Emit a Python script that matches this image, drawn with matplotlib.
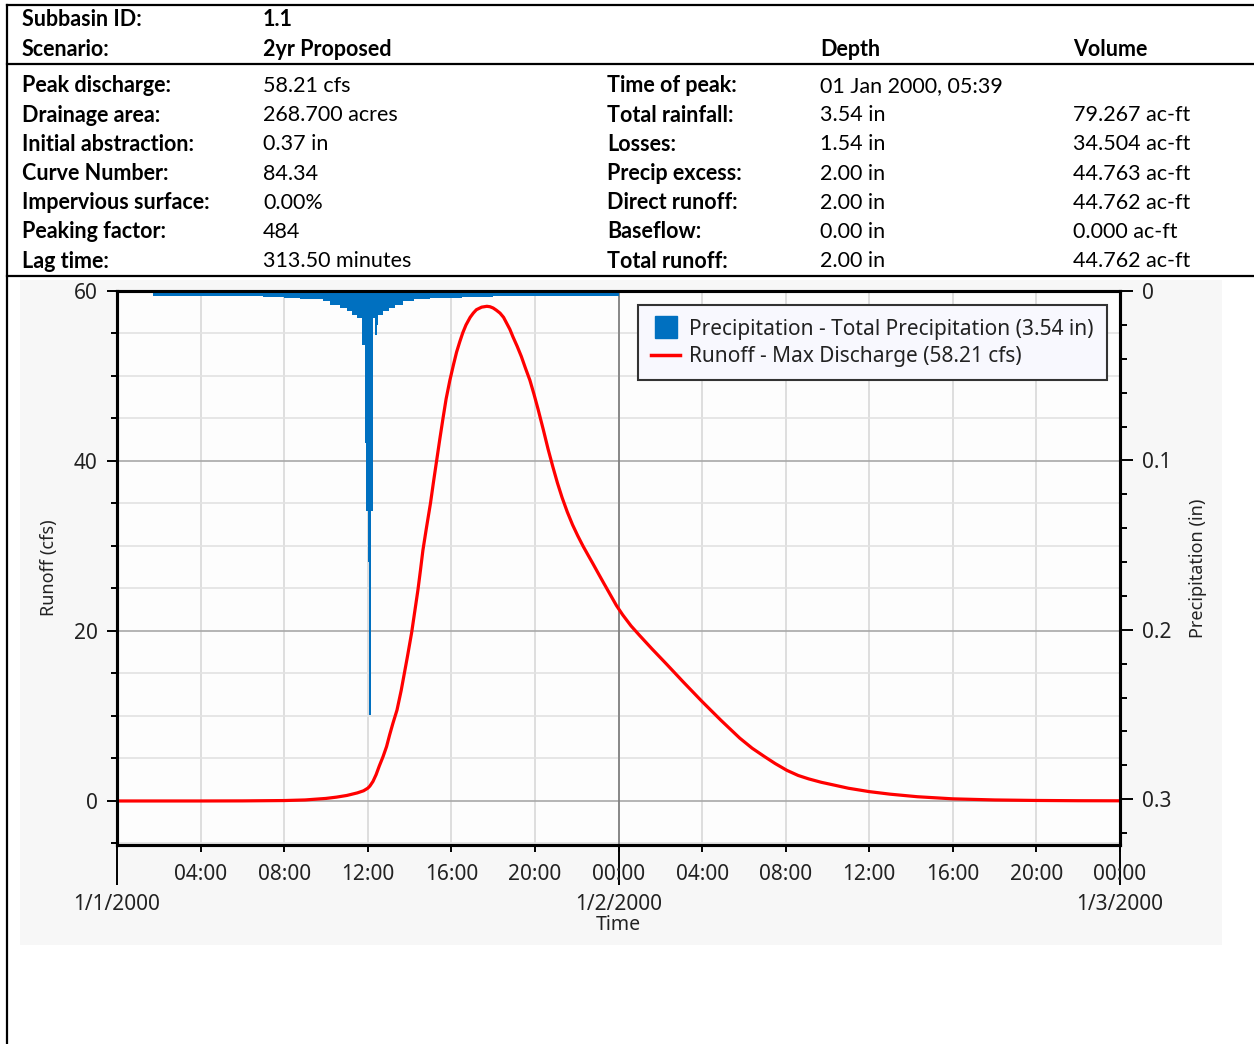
import numpy as np
import matplotlib.pyplot as plt
from matplotlib.lines import Line2D
from matplotlib.patches import Rectangle
from matplotlib.ticker import MultipleLocator

# ---- summary table ----
header_labels = ['Subbasin ID:', 'Scenario:']
header_values = ['1.1', '2yr Proposed']
left_labels = ['Peak discharge:', 'Drainage area:', 'Initial abstraction:', 'Curve Number:',
               'Impervious surface:', 'Peaking factor:', 'Lag time:']
left_values = ['58.21 cfs', '268.700 acres', '0.37 in', '84.34', '0.00%', '484', '313.50 minutes']
right_labels = ['Time of peak:', 'Total rainfall:', 'Losses:', 'Precip excess:',
                'Direct runoff:', 'Baseflow:', 'Total runoff:']
depth_values = ['01 Jan 2000, 05:39', '3.54 in', '1.54 in', '2.00 in', '2.00 in', '0.00 in', '2.00 in']
volume_values = ['', '79.267 ac-ft', '34.504 ac-ft', '44.763 ac-ft', '44.762 ac-ft', '0.000 ac-ft', '44.762 ac-ft']

# ---- hyetograph (interval start hour, depth in) ----
precip_start = [1.7, 5.0, 7.0, 8.0, 8.75, 9.85, 10.2, 10.65, 11.0, 11.25, 11.5, 11.72, 11.86,
                11.94, 12.0, 12.05, 12.17, 12.25, 12.35, 12.42, 12.5, 12.75, 13.0, 13.3, 13.7,
                14.2, 15.0, 16.5, 18.0, 21.0]
precip_end = 24.0
precip_depth = [0.003, 0.003, 0.0035, 0.004, 0.005, 0.006, 0.008, 0.010, 0.012, 0.014, 0.016,
                0.032, 0.09, 0.13, 0.16, 0.25, 0.13, 0.016, 0.026, 0.02, 0.014, 0.012, 0.010,
                0.008, 0.006, 0.005, 0.004, 0.0035, 0.003, 0.003]

# ---- runoff hydrograph (hour, cfs) ----
runoff_hours = [0, 2, 4, 6, 8, 9, 10, 10.5, 11, 11.5, 11.8, 12.0, 12.1, 12.25, 12.4, 12.55, 12.73,
                12.9, 13.05, 13.2, 13.4, 13.6, 13.75, 13.9, 14.1, 14.25, 14.4, 14.52, 14.64, 14.8,
                15.0, 15.15, 15.3, 15.45, 15.6, 15.75, 15.93, 16.1, 16.25, 16.4, 16.55, 16.7,
                16.9, 17.05, 17.2, 17.45, 17.7, 17.85, 18.0, 18.15, 18.33, 18.5, 18.65, 18.8,
                18.95, 19.15, 19.35, 19.55, 19.76, 19.95, 20.15, 20.4, 20.63, 20.86, 21.08, 21.3,
                21.55, 21.8, 22.05, 22.3, 22.55, 22.78, 23.05, 23.3, 23.6, 23.9, 24.2, 24.6, 25.0,
                25.6, 26.3, 27.1, 28.0, 28.9, 29.8, 30.4, 31.0, 31.5, 32.06, 32.6, 33.1, 33.7,
                34.26, 35.0, 36.0, 37.0, 38.3, 40.0, 42.0, 44.0, 46.0, 48.0]
runoff_cfs = [0, 0, 0, 0.01, 0.05, 0.12, 0.3, 0.45, 0.65, 0.95, 1.2, 1.5, 1.75, 2.3, 3.1, 4.1, 5.2,
              6.4, 7.8, 9.1, 10.7, 13.0, 15.0, 17.0, 19.8, 22.3, 24.8, 27.1, 29.5, 32.0,
              35.0, 37.6, 40.1, 42.6, 45.0, 47.3, 49.5, 51.3, 52.8, 54.0, 55.1, 56.0,
              56.9, 57.4, 57.8, 58.1, 58.2, 58.15, 58.0, 57.75, 57.4, 56.9, 56.2, 55.5,
              54.6, 53.5, 52.3, 50.9, 49.5, 47.9, 46.1, 43.7, 41.4, 39.3, 37.4, 35.7,
              34.0, 32.5, 31.2, 30.0, 28.9, 27.9, 26.7, 25.6, 24.3, 23.0, 21.9, 20.6, 19.5,
              17.9, 16.1, 14.0, 11.7, 9.5, 7.4, 6.2, 5.2, 4.4, 3.6, 3.0, 2.6, 2.2,
              1.9, 1.5, 1.1, 0.8, 0.5, 0.25, 0.12, 0.06, 0.03, 0.02]

tick_hours = list(range(4, 49, 4))
tick_labels = ['%02d:00' % (h % 24) for h in tick_hours]
date_hours = [0, 24, 48]
date_labels = ['1/1/2000', '1/2/2000', '1/3/2000']

W, H = 1254, 1044
fig = plt.figure(figsize=(W / 100, H / 100), dpi=100)


def fx(x):
    return x / W


def fy(y):
    return 1 - y / H


# table text
tfont = dict(family='Lato', fontsize=15.5, color='black', va='center')
for i, (lab, val) in enumerate(zip(header_labels, header_values)):
    y = fy(20 + 30 * i)
    fig.text(fx(22), y, lab, weight='bold', **tfont)
    fig.text(fx(263), y, val, weight='bold', **tfont)
fig.text(fx(820), fy(50), 'Depth', weight='bold', **tfont)
fig.text(fx(1073), fy(50), 'Volume', weight='bold', **tfont)
for i in range(len(left_labels)):
    y = fy(86 + 29.2 * i)
    fig.text(fx(22), y, left_labels[i], weight='bold', **tfont)
    fig.text(fx(263), y, left_values[i], **tfont)
    fig.text(fx(607), y, right_labels[i], weight='bold', **tfont)
    fig.text(fx(820), y, depth_values[i], **tfont)
    fig.text(fx(1073), y, volume_values[i], **tfont)

# table borders
for xs, ys in [([7, 1254], [5, 5]), ([7, 1254], [64, 64]), ([7, 1254], [276, 276]), ([7, 7], [5, 1044])]:
    fig.add_artist(Line2D([fx(v) for v in xs], [fy(v) for v in ys], color='black', lw=1.6,
                          transform=fig.transFigure))

# light chart background
fig.patches.append(Rectangle((fx(20), fy(945)), fx(1202), 665 / H, transform=fig.transFigure,
                             facecolor='#f7f7f7', edgecolor='none', zorder=-1))

# ---- chart ----
cfont = 'Noto Sans'
txt = '#222222'
ax = fig.add_axes([fx(117), fy(845), 1003 / W, 554 / H])
ax.set_facecolor('#fdfdfd')
ax.plot(runoff_hours, runoff_cfs, color='#ff0000', lw=2.3, zorder=3)
ax.set_xlim(0, 48)
ax.set_ylim(-5.18, 60)

ax.yaxis.set_major_locator(MultipleLocator(20))
ax.yaxis.set_minor_locator(MultipleLocator(5))
ax.set_xticks(tick_hours, tick_labels)
ax.grid(which='major', axis='y', color='#a8a8a8', lw=1.2)
ax.grid(which='minor', axis='y', color='#e2e2e2', lw=1.2)
ax.grid(which='major', axis='x', color='#d8d8d8', lw=1.2)
ax.axvline(24, color='#7a7a7a', lw=1.2, zorder=1)
ax.set_axisbelow(True)

for s in ax.spines.values():
    s.set_linewidth(2.2)
    s.set_color('black')
ax.tick_params(axis='y', which='major', length=7, width=1.4, pad=7, labelsize=15, labelcolor=txt)
ax.tick_params(axis='y', which='minor', length=4.5, width=1.4)
ax.tick_params(axis='x', which='major', length=5, width=1.4, pad=9, labelsize=15, labelcolor=txt)
for t in ax.get_xticklabels() + ax.get_yticklabels():
    t.set_family(cfont)
ax.set_ylabel('Runoff (cfs)', family=cfont, fontsize=13, color=txt, labelpad=11)

sec = ax.secondary_xaxis('bottom')
sec.set_xticks(date_hours, date_labels)
sec.tick_params(length=29, width=1.4, pad=6, labelsize=15, labelcolor=txt)
sec.spines['bottom'].set_visible(False)
for t in sec.get_xticklabels():
    t.set_family(cfont)
sec.set_xlabel('Time', family=cfont, fontsize=14, color=txt, labelpad=0)

ax2 = ax.twinx()
widths = np.diff(precip_start + [precip_end])
ax2.bar(precip_start, precip_depth, width=widths, align='edge', color='#0070c0', linewidth=0)
ax2.set_ylim(0.327, 0)
ax2.yaxis.set_major_locator(MultipleLocator(0.1))
ax2.yaxis.set_minor_locator(MultipleLocator(0.02))
ax2.set_yticks([0, 0.1, 0.2, 0.3], ['0', '0.1', '0.2', '0.3'])
ax2.tick_params(axis='y', which='major', length=9, width=1.4, pad=6.5, labelsize=15, labelcolor=txt)
ax2.tick_params(axis='y', which='minor', length=5, width=1.4)
for t in ax2.get_yticklabels():
    t.set_family(cfont)
ax2.set_ylabel('Precipitation (in)', family=cfont, fontsize=13, color=txt, labelpad=13)
for s in ax2.spines.values():
    s.set_linewidth(2.2)

handles = [Line2D([], [], ls='none', marker='s', markersize=16.5, color='#0070c0'),
           Line2D([], [], color='#ff0000', lw=2.5)]
leg = ax2.legend(handles, ['Precipitation - Total Precipitation (3.54 in)',
                           'Runoff - Max Discharge (58.21 cfs)'],
                 loc='upper right', bbox_to_anchor=(fx(1107), fy(305)), bbox_transform=fig.transFigure,
                 borderaxespad=0, fancybox=False, framealpha=1, facecolor='#f8f8fe', edgecolor='#333333',
                 prop={'family': cfont, 'size': 15}, handlelength=1.35, handletextpad=0.45,
                 labelspacing=0.3, borderpad=0.65)
leg.get_frame().set_linewidth(1.5)
for t in leg.get_texts():
    t.set_color(txt)

fig.savefig('out.png', dpi=100)
